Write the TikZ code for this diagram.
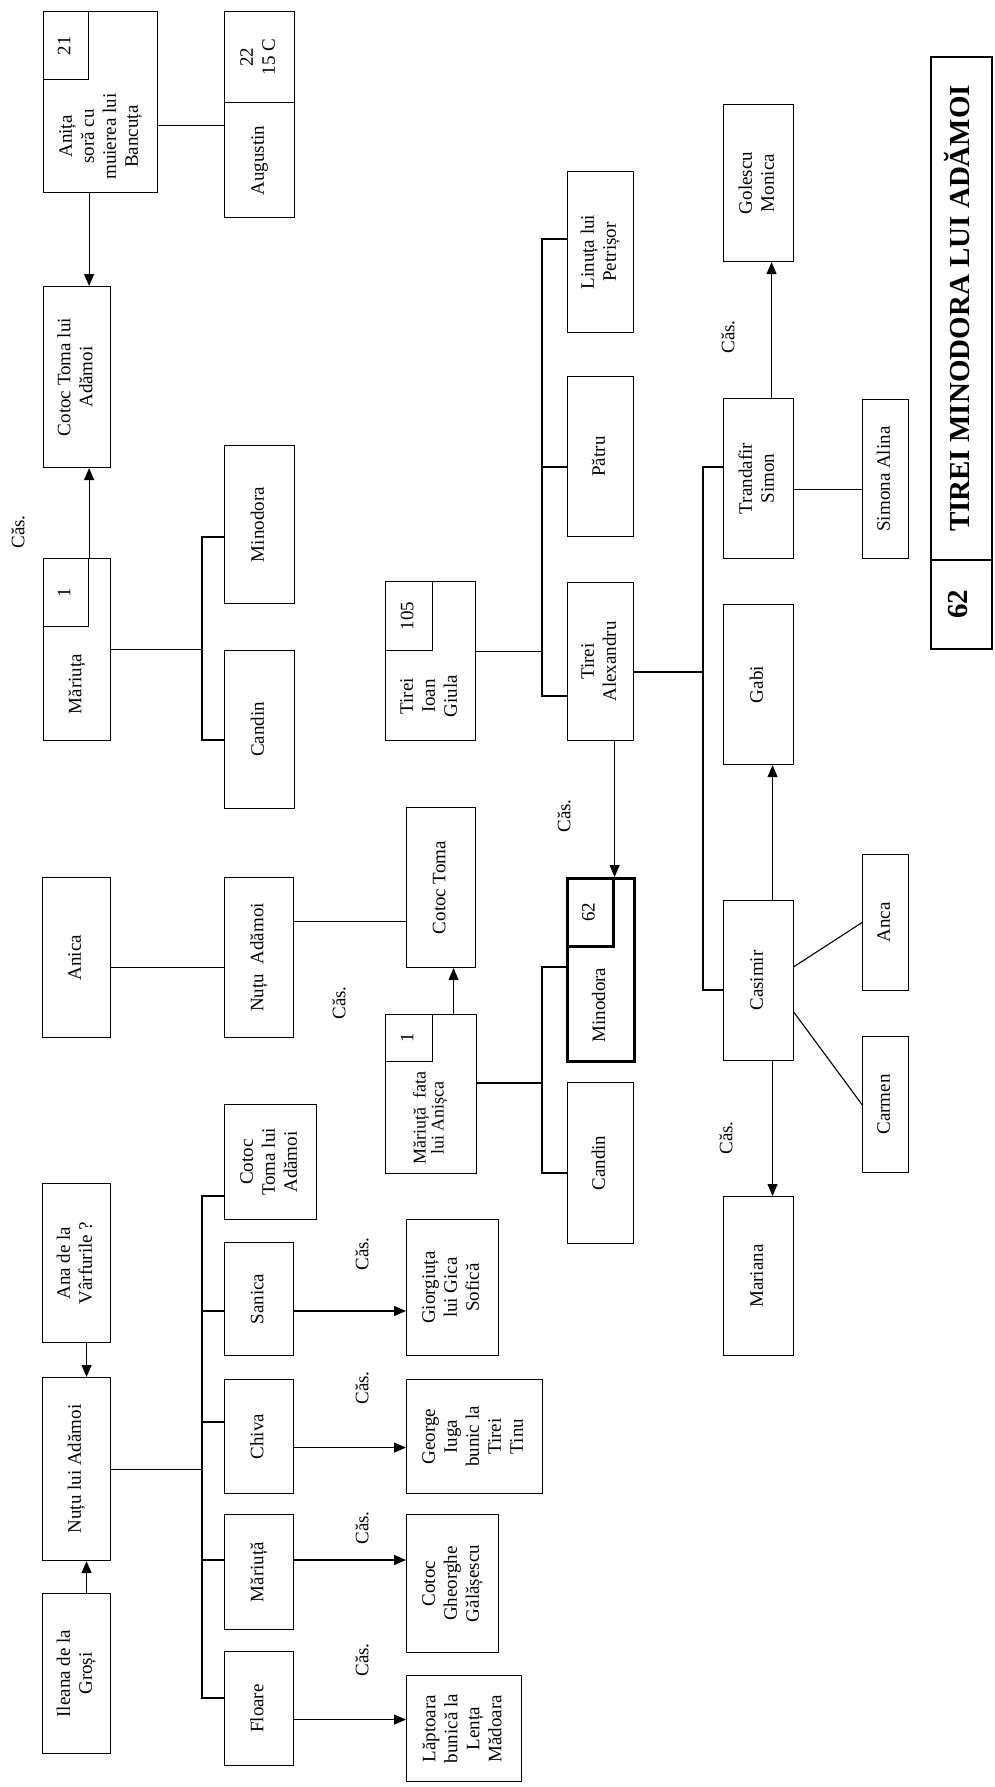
\documentclass[tikz,border=0pt]{standalone}
\usepackage{fontspec}
\usepackage{graphicx}
\setmainfont{Liberation Serif}
\usepackage{tikz}
\usetikzlibrary{arrows.meta,calc}
\newcommand{\boxfont}{\fontsize{19}{22}\selectfont}
\newcommand{\rtxt}[1]{\rotatebox{90}{\begin{tabular}{@{}c@{}}#1\end{tabular}}}

\begin{document}
\begin{tikzpicture}[x=1pt,y=1pt,
  pers/.style={draw, line width=1.1pt, inner sep=0pt, anchor=north west, font=\boxfont},
  sz/.style 2 args={minimum width=#1pt, minimum height=#2pt},
  pname/.style={inner sep=0pt, font=\boxfont},
  link/.style={line width=1.1pt},
  arr/.style={line width=1.1pt, -{Triangle[length=12pt,width=10pt]}},
  cas/.style={inner sep=0pt, font=\boxfont}]
  \useasboundingbox (0,0) rectangle (995,-1787);

  % Top left
  \node[pers, sz={114}{181}] (anita) at (43,-11) {};
  \node[pers, sz={45}{68}] (cell21) at (43,-11) {\rtxt{21}};
  \node[pname] (anitaT) at ($(cell21.south -| anita.center)!0.5!(anita.south)$) {\rtxt{Anița\\soră cu\\muierea lui\\Bancuța}};
  \node[pers, sz={70}{206}] (augustin) at (224,-11) {};
  \node[pers, sz={70}{91}] (cell22) at (224,-11) {\rtxt{22\\15 C}};
  \node[pname] (augustinT) at ($(cell22.south)!0.5!(augustin.south)$) {\rtxt{Augustin}};
  \node[pers, sz={67}{181}] (cotocA) at (43,-286) {\rtxt{Cotoc Toma lui\\Adămoi}};
  \node[pers, sz={67}{182}] (mariuta) at (43,-558) {};
  \node[pers, sz={45}{68}] (cell1) at (43,-558) {\rtxt{1}};
  \node[pname] (mariutaT) at ($(cell1.south -| mariuta.center)!0.5!(mariuta.south)$) {\rtxt{Măriuța}};
  \node[pers, sz={70}{158}] (minoA) at (224,-445) {\rtxt{Minodora}};
  \node[pers, sz={70}{158}] (candinA) at (224,-650) {\rtxt{Candin}};
  \node[cas] (cas1) at (20,-532) {\rtxt{Căs.}};

  \draw[link] ([yshift=-23.5pt]anita.east) -- ([yshift=-11pt]augustin.west);
  \draw[arr] (anita.south -| cell21.east) -- (cotocA.north -| cell21.east);
  \draw[arr] (mariuta.north -| cell1.east) -- (cotocA.south -| cell1.east);
  \coordinate (jA1) at (202,-537);
  \coordinate (jA2) at (202,-740);
  \draw[link] (mariuta.east) -- (mariuta.east -| jA1);
  \draw[link] (jA1 -| minoA.west) -- (jA1) -- (jA2) -- (jA2 -| candinA.west);

  % Tirei
  \node[pers, sz={90}{159}] (ioan) at (385,-581) {};
  \node[pers, sz={47}{69}] (cell105) at (385,-581) {\rtxt{105}};
  \node[pname] (ioanT) at ($(cell105.south -| ioan.center)!0.5!(ioan.south)$) {\rtxt{Tirei\\Ioan\\Giula}};
  \node[pers, sz={66}{161}] (linuta) at (567,-171) {\rtxt{Linuța lui\\Petrișor}};
  \node[pers, sz={66}{160}] (patru) at (567,-376) {\rtxt{Pătru}};
  \node[pers, sz={66}{158}] (alex) at (567,-582) {\rtxt{Tirei\\Alexandru}};
  \coordinate (jB1) at (542,-239);
  \coordinate (jB2) at (542,-696);
  \coordinate (jB3) at (542,-467);
  \draw[link] (cell105.south -| ioan.east) -- (cell105.south -| jB1);
  \draw[link] (jB1 -| linuta.west) -- (jB1) -- (jB2) -- (jB2 -| alex.west);
  \draw[link] (jB3) -- (jB3 -| patru.west);

  \node[pers, sz={70}{157}] (golescu) at (723,-104) {\rtxt{Golescu\\Monica}};
  \node[pers, sz={70}{160}] (trandafir) at (723,-398) {\rtxt{Trandafir\\Simon}};
  \node[pers, sz={46}{159}] (simona) at (862,-399) {\rtxt{Simona Alina}};
  \node[pers, sz={70}{160}] (gabi) at (723,-604) {\rtxt{Gabi}};
  \node[pers, sz={70}{160}] (casimir) at (723,-900) {\rtxt{Casimir}};
  \node[pers, sz={46}{136}] (anca) at (862,-854) {\rtxt{Anca}};
  \node[pers, sz={46}{136}] (carmen) at (862,-1036) {\rtxt{Carmen}};
  \node[pers, sz={70}{159}] (mariana) at (723,-1196) {\rtxt{Mariana}};
  \node[cas] (cas2) at (730,-337) {\rtxt{Căs.}};
  \node[cas] (cas3) at (728,-1138) {\rtxt{Căs.}};
  \coordinate (jC0) at (703,-672);
  \coordinate (jC1) at (703,-467);
  \coordinate (jC2) at (703,-990);
  \draw[link] (jC0 -| alex.east) -- (jC0);
  \draw[link] (jC1 -| trandafir.west) -- (jC1) -- (jC2) -- (jC2 -| casimir.west);
  \draw[arr] ([xshift=13pt]trandafir.north) -- ([xshift=13pt]golescu.south);
  \draw[link] ([yshift=-11pt]trandafir.east) -- ([yshift=-10.5pt]simona.west);
  \draw[arr] ([xshift=14pt]casimir.north) -- ([xshift=14pt]gabi.south);
  \draw[arr] ([xshift=14pt]casimir.south) -- ([xshift=14pt]mariana.north);
  \draw[link] ([yshift=14pt]casimir.east) -- (anca.west);
  \draw[link] ([yshift=-32pt]casimir.east) -- (carmen.west);

  % Title
  \node[pers, sz={61}{503}, line width=1.8pt, font=\fontsize{29}{30}\selectfont\bfseries] (title) at (930,-56) {\rtxt{TIREI MINODORA LUI ADĂMOI}};
  \node[pers, sz={61}{89}, line width=1.8pt, font=\fontsize{29}{30}\selectfont\bfseries] (titlenr) at (930,-559) {\rtxt{62}};

  % Middle
  \node[pers, sz={68}{160}] (anica) at (42,-877) {\rtxt{Anica}};
  \node[pers, sz={69}{160}] (nutuA) at (224,-877) {\rtxt{Nuțu\ \ Adămoi}};
  \node[pers, sz={69}{160}] (cotocT) at (406,-807) {\rtxt{Cotoc Toma}};
  \node[pers, sz={91}{159}] (mfata) at (385,-1014) {};
  \node[pers, sz={47}{47}] (cellM1) at (385,-1014) {\rtxt{1}};
  \node[pname, font=\fontsize{18}{18}\selectfont] (mfataT) at ($(cellM1.south -| mfata.center)!0.5!(mfata.south)$) {\rtxt{Măriuță\ \ fata\\lui Anișca}};
  \node[pers, sz={67}{183}, line width=2.6pt] (minoB) at (566,-877) {};
  \node[pers, sz={46}{68}, line width=2.6pt] (cell62) at (566,-877) {\rtxt{62}};
  \node[pname] (minoBT) at ($(cell62.south -| minoB.center)!0.5!(minoB.south)$) {\rtxt{Minodora}};
  \node[pers, sz={66}{161}] (candinB) at (567,-1082) {\rtxt{Candin}};
  \node[cas] (cas4) at (341,-1003) {\rtxt{Căs.}};
  \node[cas] (cas5) at (566,-816) {\rtxt{Căs.}};
  \draw[link] ([yshift=-10pt]anica.east) -- ([yshift=-10pt]nutuA.west);
  \draw[link] ([yshift=36pt]nutuA.east) -- ([yshift=-34pt]cotocT.west);
  \draw[arr] ([xshift=22.5pt]mfata.north) -- ([xshift=12.5pt]cotocT.south);
  \draw[arr] (alex.south -| cell62.east) -- (minoB.north -| cell62.east);
  \coordinate (jD0) at (542,-1083);
  \coordinate (jD1) at (542,-967);
  \coordinate (jD2) at (542,-1173);
  \draw[link] (jD0 -| mfata.east) -- (jD0);
  \draw[link] (jD1 -| minoB.west) -- (jD1) -- (jD2) -- (jD2 -| candinB.west);

  % Bottom left
  \node[pers, sz={68}{159}] (anaV) at (42,-1183) {\rtxt{Ana de la\\Vârfurile ?}};
  \node[pers, sz={68}{183}] (nutuL) at (42,-1377) {\rtxt{Nuțu lui Adămoi}};
  \node[pers, sz={68}{160}] (ileana) at (42,-1593) {\rtxt{Ileana de la\\Groși}};
  \draw[arr] ([xshift=10pt]anaV.south) -- ([xshift=10pt]nutuL.north);
  \draw[arr] ([xshift=10pt]ileana.north) -- ([xshift=10pt]nutuL.south);

  \node[pers, sz={92}{115}] (cotocB) at (224,-1104) {\rtxt{Cotoc\\Toma lui\\Adămoi}};
  \node[pers, sz={69}{113}] (sanica) at (224,-1242) {\rtxt{Sanica}};
  \node[pers, sz={69}{114}] (chiva) at (224,-1379) {\rtxt{Chiva}};
  \node[pers, sz={69}{115}] (mariuta2) at (224,-1514) {\rtxt{Măriuță}};
  \node[pers, sz={69}{114}] (floare) at (224,-1651) {\rtxt{Floare}};
  \coordinate (jE1) at (202,-1196);
  \coordinate (jE2) at (202,-1311);
  \coordinate (jE3) at (202,-1422);
  \coordinate (jE4) at (202,-1560);
  \coordinate (jE5) at (202,-1698);
  \draw[link] (nutuL.east) -- (nutuL.east -| jE1);
  \draw[link] (jE1 -| cotocB.west) -- (jE1) -- (jE5) -- (jE5 -| floare.west);
  \draw[link] (jE2) -- (jE2 -| sanica.west);
  \draw[link] (jE3) -- (jE3 -| chiva.west);
  \draw[link] (jE4) -- (jE4 -| mariuta2.west);

  \node[pers, sz={92}{136}] (giorgiuta) at (406,-1219) {\rtxt{Giorgiuța\\lui Gica\\Sofică}};
  \node[pers, sz={136}{114}] (george) at (406,-1379) {\rtxt{George\\Iuga\\bunic la\\Tirei\\Tinu}};
  \node[pers, sz={92}{138}] (gheorghe) at (406,-1514) {\rtxt{Cotoc\\Gheorghe\\Gălășescu}};
  \node[pers, sz={115}{106}] (laptoara) at (406,-1675) {\rtxt{Lăptoara\\bunică la\\Lența\\Mădoara}};
  \node[cas] (cas6) at (364,-1254) {\rtxt{Căs.}};
  \node[cas] (cas7) at (364,-1388) {\rtxt{Căs.}};
  \node[cas] (cas8) at (364,-1528) {\rtxt{Căs.}};
  \node[cas] (cas9) at (364,-1660) {\rtxt{Căs.}};
  \draw[arr] (jE2 -| sanica.east) -- (jE2 -| giorgiuta.west);
  \draw[arr] ([yshift=-11pt]chiva.east) -- ([yshift=-11pt]george.west);
  \draw[arr] (jE4 -| mariuta2.east) -- (jE4 -| gheorghe.west);
  \draw[arr] ([yshift=-11pt]floare.east) -- ([yshift=9pt]laptoara.west);
\end{tikzpicture}
\end{document}
